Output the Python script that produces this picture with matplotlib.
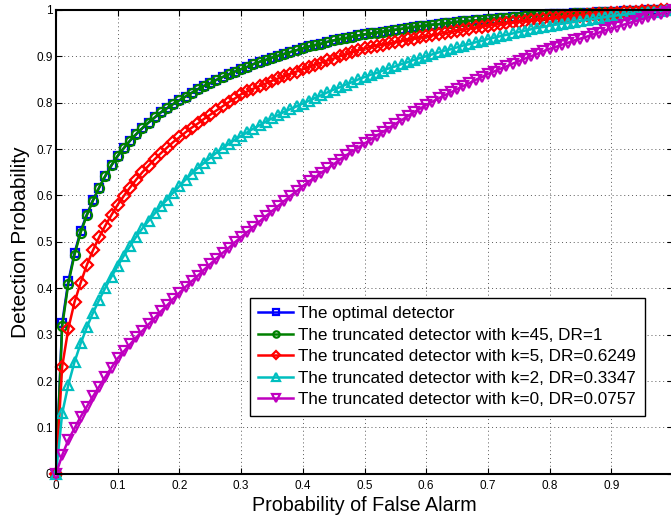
import numpy as np
import matplotlib
matplotlib.use("Agg")
import matplotlib.pyplot as plt
from matplotlib.ticker import FuncFormatter

plt.rcParams['font.family'] = ['Liberation Sans', 'DejaVu Sans']

pfa = np.linspace(0, 1, 101)

pd_optimal = [0.000, 0.325, 0.415, 0.476, 0.523, 0.559, 0.590, 0.617, 0.642, 0.665,
              0.685, 0.702, 0.718, 0.732, 0.745, 0.757, 0.768, 0.779, 0.788, 0.797,
              0.805, 0.813, 0.821, 0.829, 0.836, 0.842, 0.849, 0.855, 0.861, 0.867,
              0.872, 0.877, 0.883, 0.888, 0.892, 0.897, 0.901, 0.905, 0.909, 0.913,
              0.917, 0.921, 0.924, 0.927, 0.931, 0.934, 0.937, 0.939, 0.942, 0.945,
              0.947, 0.949, 0.951, 0.953, 0.955, 0.957, 0.959, 0.961, 0.963, 0.965,
              0.966, 0.968, 0.969, 0.971, 0.972, 0.974, 0.975, 0.976, 0.977, 0.979,
              0.980, 0.981, 0.982, 0.983, 0.984, 0.985, 0.986, 0.987, 0.988, 0.989,
              0.990, 0.991, 0.991, 0.992, 0.993, 0.993, 0.994, 0.994, 0.995, 0.995,
              0.996, 0.996, 0.997, 0.997, 0.998, 0.998, 0.999, 0.999, 0.999, 1.000,
              1.000]

pd_k45 = [0.000, 0.318, 0.410, 0.472, 0.520, 0.557, 0.589, 0.617, 0.642, 0.665,
          0.685, 0.702, 0.718, 0.732, 0.745, 0.757, 0.768, 0.779, 0.788, 0.797,
          0.805, 0.813, 0.821, 0.829, 0.836, 0.842, 0.849, 0.855, 0.861, 0.867,
          0.872, 0.877, 0.883, 0.888, 0.892, 0.897, 0.901, 0.905, 0.909, 0.913,
          0.917, 0.921, 0.924, 0.927, 0.931, 0.934, 0.937, 0.939, 0.942, 0.945,
          0.947, 0.949, 0.951, 0.953, 0.955, 0.957, 0.959, 0.961, 0.963, 0.965,
          0.966, 0.968, 0.969, 0.971, 0.972, 0.974, 0.975, 0.976, 0.977, 0.979,
          0.980, 0.981, 0.982, 0.983, 0.984, 0.985, 0.986, 0.987, 0.988, 0.989,
          0.990, 0.991, 0.991, 0.992, 0.993, 0.993, 0.994, 0.994, 0.995, 0.995,
          0.996, 0.996, 0.997, 0.997, 0.998, 0.998, 0.999, 0.999, 0.999, 1.000,
          1.000]

pd_k5 = [0.000, 0.231, 0.313, 0.370, 0.412, 0.450, 0.482, 0.510, 0.535, 0.558,
         0.580, 0.599, 0.617, 0.634, 0.650, 0.664, 0.678, 0.691, 0.703, 0.715,
         0.725, 0.736, 0.746, 0.755, 0.765, 0.774, 0.783, 0.792, 0.801, 0.809,
         0.818, 0.824, 0.830, 0.836, 0.841, 0.847, 0.852, 0.857, 0.862, 0.867,
         0.872, 0.877, 0.882, 0.886, 0.891, 0.895, 0.900, 0.904, 0.909, 0.913,
         0.917, 0.920, 0.923, 0.925, 0.928, 0.930, 0.933, 0.936, 0.938, 0.941,
         0.943, 0.945, 0.948, 0.950, 0.952, 0.955, 0.957, 0.959, 0.962, 0.964,
         0.966, 0.968, 0.969, 0.971, 0.973, 0.974, 0.976, 0.977, 0.979, 0.980,
         0.982, 0.983, 0.984, 0.985, 0.986, 0.987, 0.989, 0.990, 0.991, 0.992,
         0.993, 0.994, 0.995, 0.996, 0.996, 0.997, 0.998, 0.998, 0.999, 0.999,
         1.000]

pd_k2 = [0.000, 0.130, 0.192, 0.241, 0.281, 0.316, 0.347, 0.375, 0.401, 0.425,
         0.448, 0.470, 0.491, 0.511, 0.529, 0.545, 0.561, 0.577, 0.591, 0.606,
         0.620, 0.634, 0.647, 0.659, 0.670, 0.681, 0.692, 0.702, 0.711, 0.720,
         0.728, 0.736, 0.744, 0.751, 0.759, 0.766, 0.773, 0.780, 0.786, 0.792,
         0.798, 0.804, 0.810, 0.816, 0.822, 0.828, 0.833, 0.839, 0.844, 0.850,
         0.855, 0.860, 0.864, 0.869, 0.874, 0.878, 0.883, 0.887, 0.892, 0.896,
         0.900, 0.904, 0.908, 0.912, 0.915, 0.919, 0.923, 0.926, 0.930, 0.933,
         0.937, 0.940, 0.943, 0.946, 0.949, 0.952, 0.955, 0.958, 0.961, 0.963,
         0.966, 0.968, 0.970, 0.972, 0.974, 0.976, 0.978, 0.980, 0.982, 0.984,
         0.986, 0.988, 0.989, 0.991, 0.992, 0.994, 0.995, 0.996, 0.998, 0.999,
         1.000]

pd_k0 = [0.000, 0.040, 0.073, 0.098, 0.123, 0.145, 0.167, 0.188, 0.209, 0.229,
         0.249, 0.264, 0.279, 0.294, 0.308, 0.322, 0.336, 0.350, 0.363, 0.377,
         0.390, 0.403, 0.415, 0.427, 0.440, 0.452, 0.464, 0.476, 0.487, 0.499,
         0.510, 0.521, 0.532, 0.544, 0.555, 0.566, 0.577, 0.588, 0.599, 0.609,
         0.620, 0.630, 0.639, 0.649, 0.658, 0.667, 0.677, 0.686, 0.695, 0.703,
         0.712, 0.720, 0.729, 0.737, 0.746, 0.754, 0.762, 0.771, 0.779, 0.787,
         0.795, 0.802, 0.809, 0.816, 0.822, 0.829, 0.836, 0.842, 0.849, 0.855,
         0.862, 0.867, 0.873, 0.878, 0.884, 0.889, 0.895, 0.900, 0.905, 0.911,
         0.916, 0.920, 0.925, 0.929, 0.934, 0.938, 0.942, 0.947, 0.951, 0.956,
         0.960, 0.964, 0.968, 0.972, 0.976, 0.980, 0.984, 0.988, 0.992, 0.996,
         1.000]

labels = ["The optimal detector",
          "The truncated detector with k=45, DR=1",
          "The truncated detector with k=5, DR=0.6249",
          "The truncated detector with k=2, DR=0.3347",
          "The truncated detector with k=0, DR=0.0757"]
series = [pd_optimal, pd_k45, pd_k5, pd_k2, pd_k0]
colors = [(0, 0, 1), (0, 0.5, 0), (1, 0, 0), (0, 0.75, 0.75), (0.75, 0, 0.75)]
markers = ['s', 'o', 'D', '^', 'v']
msizes = [5.5, 6.5, 6, 7.5, 7.5]

W, H = 671, 515
fig = plt.figure(figsize=(W / 100, H / 100), dpi=100)
ax = fig.add_axes([56 / W, (H - 473.8) / H, 617 / W, 464 / H])

for y, lab, c, m, ms in zip(series, labels, colors, markers, msizes):
    ax.plot(pfa, y, color=c, marker=m, markersize=ms, markerfacecolor='none',
            markeredgewidth=1.6, linewidth=1.8, label=lab, clip_on=False)

ax.set_xlim(0, 1)
ax.set_ylim(0, 1)
ticks = np.arange(0, 1.01, 0.1)
ax.set_xticks(ticks)
ax.set_yticks(ticks)
xlabels = [f"{v:g}" for v in np.round(ticks, 1)]
xlabels[-1] = ""
ax.set_xticklabels(xlabels)
ax.yaxis.set_major_formatter(FuncFormatter(lambda v, p: f"{v:g}"))
ax.tick_params(direction='in', top=True, right=True, length=4, width=0.8,
               labelsize=8.5)
ax.tick_params(axis='x', pad=4.5)
ax.tick_params(axis='y', pad=2.5)
ax.grid(True, linestyle=(0, (1, 3)), color='0.35', linewidth=0.7)
for s in ax.spines.values():
    s.set_linewidth(1.5)

ax.set_xlabel("Probability of False Alarm", fontsize=14.2, labelpad=3)
ax.set_ylabel("Detection Probability", fontsize=15, labelpad=4)

leg = ax.legend(loc='lower left', bbox_to_anchor=(0.314, 0.125), borderaxespad=0,
                fontsize=12.3, fancybox=False, framealpha=1, edgecolor='black',
                handlelength=2.05, handletextpad=0.3, labelspacing=0.38,
                borderpad=0.5, markerscale=0.7)
leg.get_frame().set_linewidth(1.0)

fig.savefig("out.png", dpi=100)
